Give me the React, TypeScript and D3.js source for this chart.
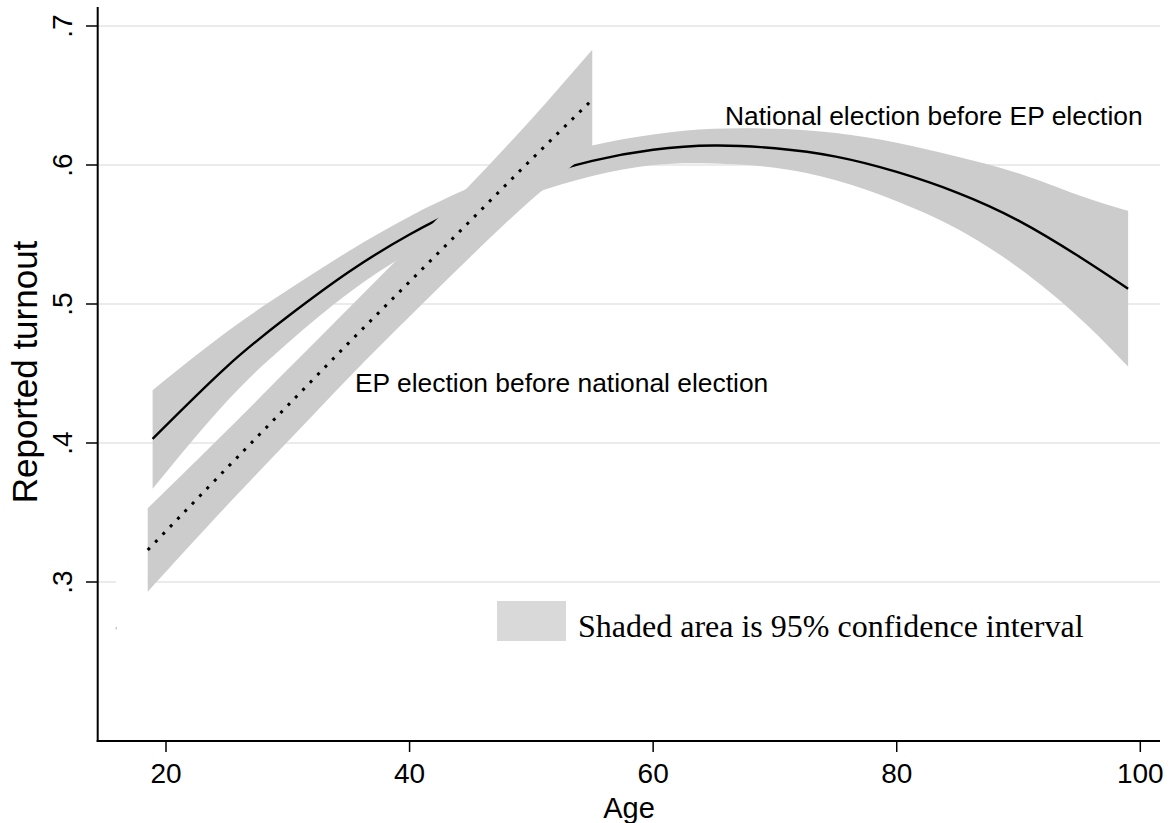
import React from "react";
import * as d3 from "d3";

// ---- data ----
const natAge = [18.9, 25, 30, 35, 40, 45, 50, 55, 60, 65, 70, 75, 80, 85, 90, 95, 99];
const natMid = [0.403, 0.455, 0.491, 0.523, 0.55, 0.572, 0.59, 0.603, 0.611, 0.614, 0.612, 0.606, 0.595, 0.58, 0.56, 0.534, 0.511];
const natHi = [0.438, 0.48, 0.51, 0.538, 0.563, 0.584, 0.601, 0.614, 0.622, 0.626, 0.626, 0.623, 0.616, 0.606, 0.594, 0.578, 0.567];
const natLo = [0.367, 0.43, 0.472, 0.508, 0.537, 0.561, 0.579, 0.592, 0.6, 0.601, 0.598, 0.589, 0.574, 0.554, 0.526, 0.49, 0.455];

const epAge = [18.5, 25, 30, 35, 40, 45, 50, 55];
const epMid = [0.323, 0.382, 0.427, 0.472, 0.516, 0.56, 0.604, 0.647];
const epHi = [0.353, 0.409, 0.453, 0.497, 0.541, 0.586, 0.633, 0.683];
const epLo = [0.293, 0.355, 0.401, 0.447, 0.491, 0.534, 0.575, 0.611];

const xTicks = [20, 40, 60, 80, 100];
const yTicks = [0.3, 0.4, 0.5, 0.6, 0.7];
const yTickLabels = [".3", ".4", ".5", ".6", ".7"];

const labelNat = "National election before EP election";
const labelEp = "EP election before national election";
const legendText = "Shaded area is 95% confidence interval";

const W = 1169;
const H = 823;
const SANS = "'Liberation Sans', Arial, Helvetica, sans-serif";
const SERIF = "'Liberation Serif', 'Times New Roman', serif";

export default function App() {
  const x = d3.scaleLinear().domain([20, 100]).range([166, 1140.3]);
  const y = d3.scaleLinear().domain([0.3, 0.6]).range([582, 165]);
  const axisLeft = 97.7;
  const axisRight = 1160;
  const axisTop = 7;
  const axisBottom = 741;

  const natRows = natAge.map((a, i) => ({ a, m: natMid[i], hi: natHi[i], lo: natLo[i] }));
  const epRows = epAge.map((a, i) => ({ a, m: epMid[i], hi: epHi[i], lo: epLo[i] }));

  type R = { a: number; m: number; hi: number; lo: number };
  const area = d3
    .area<R>()
    .x((d) => x(d.a))
    .y0((d) => y(d.lo))
    .y1((d) => y(d.hi))
    .curve(d3.curveNatural);
  const line = d3
    .line<R>()
    .x((d) => x(d.a))
    .y((d) => y(d.m))
    .curve(d3.curveNatural);

  const band = "#cccccc";

  return (
    <svg
      width={W}
      height={H}
      style={{ position: "absolute", left: 0, top: 0, background: "#fff" }}
    >
      <rect x={0} y={0} width={W} height={H} fill="#fff" />
      {/* grid */}
      {yTicks.map((t) => (
        <line key={t} x1={axisLeft} x2={axisRight} y1={y(t)} y2={y(t)} stroke="#ebebeb" strokeWidth={2} />
      ))}
      {/* small white gap in the .3 grid line */}
      <rect x={116} y={y(0.3) - 3} width={x(18.5) - 116} height={6} fill="#fff" />
      <rect x={115.5} y={627} width={1.5} height={2.5} fill={band} />

      {/* national before EP */}
      <path d={area(natRows) || ""} fill={band} />
      <path d={line(natRows) || ""} fill="none" stroke="#000" strokeWidth={2.4} />

      {/* EP before national */}
      <path d={area(epRows) || ""} fill={band} />
      <path
        d={line(epRows) || ""}
        fill="none"
        stroke="#000"
        strokeWidth={3}
        strokeDasharray="3 7.6"
      />

      {/* labels */}
      <text x={725} y={125} fontFamily={SANS} fontSize={26.4} fill="#000">
        {labelNat}
      </text>
      <text x={355} y={392} fontFamily={SANS} fontSize={26.4} fill="#000">
        {labelEp}
      </text>

      {/* legend */}
      <rect x={497} y={601} width={69} height={40} fill="#d9d9d9" />
      <text x={578} y={637} fontFamily={SERIF} fontSize={32} fill="#000">
        {legendText}
      </text>

      {/* axes */}
      <line x1={axisLeft} x2={axisLeft} y1={axisTop} y2={axisBottom + 1} stroke="#000" strokeWidth={2} />
      <line x1={axisLeft - 1} x2={axisRight} y1={axisBottom} y2={axisBottom} stroke="#000" strokeWidth={2} />
      {yTicks.map((t, i) => (
        <g key={"y" + t}>
          <line x1={86} x2={axisLeft} y1={y(t)} y2={y(t)} stroke="#000" strokeWidth={1.5} />
          <text
            transform={`translate(72,${y(t)}) rotate(-90)`}
            textAnchor="middle"
            fontFamily={SANS}
            fontSize={28}
            fill="#000"
          >
            {yTickLabels[i]}
          </text>
        </g>
      ))}
      {xTicks.map((t) => (
        <g key={"x" + t}>
          <line x1={x(t)} x2={x(t)} y1={axisBottom} y2={752} stroke="#000" strokeWidth={1.5} />
          <text x={x(t)} y={783} textAnchor="middle" fontFamily={SANS} fontSize={28} fill="#000">
            {t}
          </text>
        </g>
      ))}
      <text x={629} y={818} textAnchor="middle" fontFamily={SANS} fontSize={29} fill="#000">
        Age
      </text>
      <text
        transform={`translate(37,372) rotate(-90)`}
        textAnchor="middle"
        fontFamily={SANS}
        fontSize={35}
        fill="#000"
      >
        Reported turnout
      </text>
    </svg>
  );
}
